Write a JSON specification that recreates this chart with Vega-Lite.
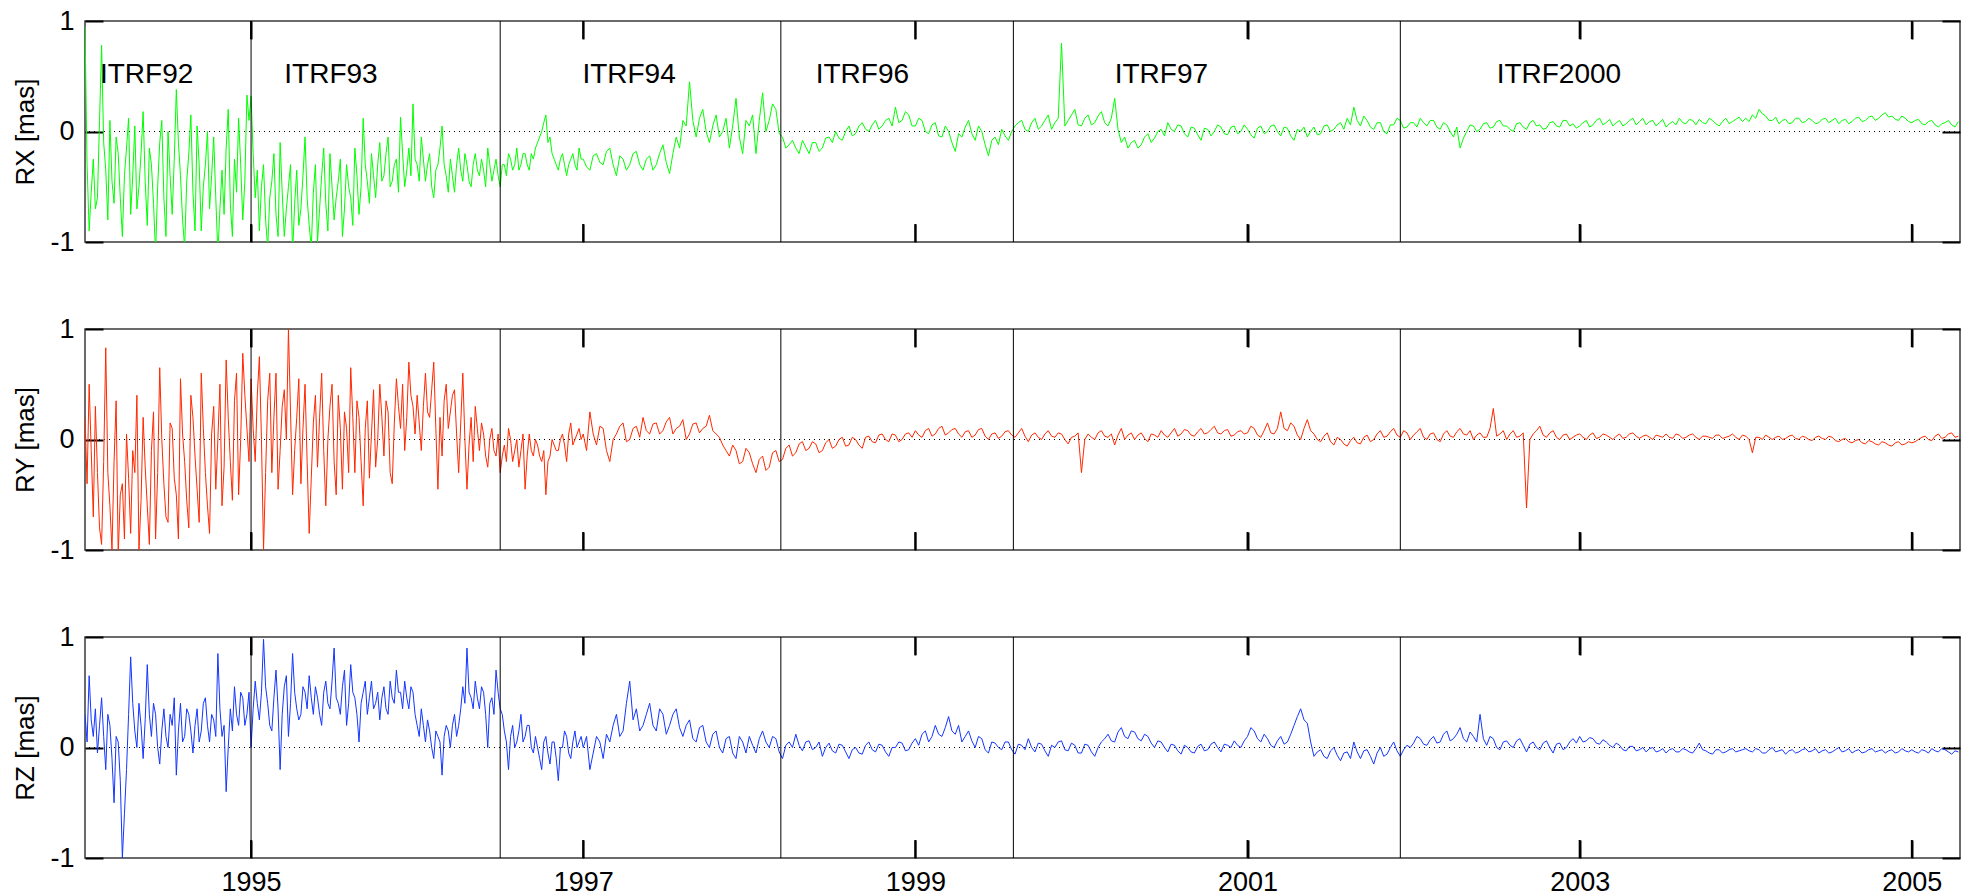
{
"$schema":"https://vega.github.io/schema/vega-lite/v6.json",
"background":"white",
"padding":{"left":12,"top":6,"right":5,"bottom":5},
"spacing":87,
"bounds":"flush",
"config":{"view":{"stroke":"#3a3a3a","strokeWidth":1.5},"axis":{"labelColor":"#000000","titleColor":"#000000","labelFont":"Liberation Sans","titleFont":"Liberation Sans","domain":false,"grid":false,"ticks":true,"tickColor":"#000000","tickWidth":2,"zindex":1}},
"datasets":{
"bounds":[{"b":1995.0},{"b":1996.5},{"b":1998.19},{"b":1999.59},{"b":2001.92}],
"xt":[{"t":1995},{"t":1997},{"t":1999},{"t":2001},{"t":2003},{"t":2005}],
"yt":[{"v":0}],
"labels":[{"t":1994.09,"v":0.51,"name":"ITRF92"},{"t":1995.2,"v":0.51,"name":"ITRF93"},{"t":1996.995,"v":0.51,"name":"ITRF94"},{"t":1998.4,"v":0.51,"name":"ITRF96"},{"t":2000.2,"v":0.51,"name":"ITRF97"},{"t":2002.5,"v":0.51,"name":"ITRF2000"}],
"ts":[
{"t":1994,"x":0.95,"y":0.2,"z":0.3},{"t":1994.0125,"x":-0.3,"y":-0.4,"z":0.05},
{"t":1994.025,"x":-0.9,"y":0.5,"z":0.65},{"t":1994.0375,"x":-0.55,"y":-0.1,"z":0.25},
{"t":1994.05,"x":-0.25,"y":-0.7,"z":0.1},{"t":1994.0625,"x":-0.7,"y":0.3,"z":0.35},
{"t":1994.075,"x":-0.6,"y":-0.3,"z":-0.05},{"t":1994.0875,"x":0.1,"y":-0.8,"z":0.2},
{"t":1994.1,"x":0.78,"y":-0.95,"z":0.45},{"t":1994.1125,"x":-0.1,"y":-0.2,"z":0.1},
{"t":1994.125,"x":-0.35,"y":0.83,"z":-0.2},{"t":1994.1375,"x":-0.8,"y":-0.3,"z":0.3},
{"t":1994.15,"x":0.1,"y":-0.6,"z":0.2},{"t":1994.1625,"x":-0.45,"y":-1.0,"z":-0.1},
{"t":1994.175,"x":-0.65,"y":-0.2,"z":-0.5},{"t":1994.1875,"x":-0.05,"y":0.35,"z":0.1},
{"t":1994.2,"x":-0.2,"y":-1.05,"z":0.05},{"t":1994.2125,"x":-0.6,"y":-0.5,"z":-0.3},
{"t":1994.225,"x":-0.95,"y":-0.4,"z":-1.0},{"t":1994.2375,"x":-0.4,"y":-0.9,"z":-0.6},
{"t":1994.25,"x":-0.15,"y":0.05,"z":-0.2},{"t":1994.2625,"x":0.12,"y":-0.35,"z":0.3},
{"t":1994.275,"x":-0.75,"y":-0.85,"z":0.82},{"t":1994.2875,"x":-0.4,"y":-0.1,"z":0.4},
{"t":1994.3,"x":0.05,"y":-0.3,"z":0.15},{"t":1994.3125,"x":-0.7,"y":0.4,"z":0.0},
{"t":1994.325,"x":-0.5,"y":-1.0,"z":0.4},{"t":1994.3375,"x":-0.2,"y":-0.55,"z":0.2},
{"t":1994.35,"x":0.18,"y":0.2,"z":-0.1},{"t":1994.3625,"x":-0.45,"y":-0.25,"z":0.25},
{"t":1994.375,"x":-0.85,"y":-0.6,"z":0.75},{"t":1994.3875,"x":-0.15,"y":-0.95,"z":0.3},
{"t":1994.4,"x":-0.3,"y":-0.1,"z":0.1},{"t":1994.4125,"x":-0.65,"y":0.25,"z":0.4},
{"t":1994.425,"x":-1.1,"y":-0.9,"z":0.3},{"t":1994.4375,"x":-0.5,"y":-0.3,"z":0.0},
{"t":1994.45,"x":-0.1,"y":0.65,"z":-0.15},{"t":1994.4625,"x":0.1,"y":0.0,"z":0.15},
{"t":1994.475,"x":-0.6,"y":-0.4,"z":0.35},{"t":1994.4875,"x":-0.95,"y":-0.7,"z":0.1},
{"t":1994.5,"x":0.0,"y":-0.75,"z":0.0},{"t":1994.5125,"x":-0.4,"y":0.15,"z":0.3},
{"t":1994.525,"x":-0.75,"y":0.1,"z":0.2},{"t":1994.5375,"x":-0.25,"y":-0.35,"z":0.45},
{"t":1994.55,"x":0.38,"y":-0.5,"z":-0.25},{"t":1994.5625,"x":-0.1,"y":-0.9,"z":0.15},
{"t":1994.575,"x":-0.4,"y":0.55,"z":0.4},{"t":1994.5875,"x":-0.8,"y":0.05,"z":0.05},
{"t":1994.6,"x":-1.05,"y":-0.2,"z":0.1},{"t":1994.6125,"x":-0.45,"y":-0.55,"z":0.35},
{"t":1994.625,"x":-0.2,"y":-0.8,"z":0.3},{"t":1994.6375,"x":0.15,"y":0.4,"z":0.15},
{"t":1994.65,"x":-0.55,"y":0.2,"z":-0.05},{"t":1994.6625,"x":-0.9,"y":-0.15,"z":0.2},
{"t":1994.675,"x":0.05,"y":-0.45,"z":0.35},{"t":1994.6875,"x":-0.3,"y":-0.75,"z":0.05},
{"t":1994.7,"x":-0.9,"y":0.6,"z":0.15},{"t":1994.7125,"x":-0.5,"y":0.1,"z":0.4},
{"t":1994.725,"x":-0.3,"y":-0.3,"z":0.45},{"t":1994.7375,"x":0.0,"y":-0.6,"z":0.2},
{"t":1994.75,"x":-0.7,"y":-0.85,"z":0.05},{"t":1994.7625,"x":-0.4,"y":0.05,"z":0.3},
{"t":1994.775,"x":-0.05,"y":0.3,"z":0.25},{"t":1994.7875,"x":-0.6,"y":-0.45,"z":0.1},
{"t":1994.8,"x":-1.1,"y":0.0,"z":0.85},{"t":1994.8125,"x":-0.7,"y":0.5,"z":0.35},
{"t":1994.825,"x":-0.35,"y":-0.6,"z":0.1},{"t":1994.8375,"x":-0.75,"y":-0.25,"z":0.2},
{"t":1994.85,"x":-0.15,"y":0.72,"z":-0.4},{"t":1994.8625,"x":0.2,"y":0.2,"z":0.0},
{"t":1994.875,"x":-0.65,"y":-0.2,"z":0.35},{"t":1994.8875,"x":-0.95,"y":-0.55,"z":0.15},
{"t":1994.9,"x":-0.25,"y":0.35,"z":0.55},{"t":1994.9125,"x":-0.55,"y":0.6,"z":0.3},
{"t":1994.925,"x":0.12,"y":-0.5,"z":0.2},{"t":1994.9375,"x":-0.3,"y":0.0,"z":0.5},
{"t":1994.95,"x":-0.8,"y":0.78,"z":0.45},{"t":1994.9625,"x":-0.45,"y":0.4,"z":0.2},
{"t":1994.975,"x":0.33,"y":0.1,"z":0.3},{"t":1994.9875,"x":0.1,"y":-0.2,"z":0.5},
{"t":1995,"x":0.32,"y":0.55,"z":0.0},{"t":1995.0125,"x":-0.2,"y":0.1,"z":0.35},
{"t":1995.025,"x":-0.6,"y":-0.2,"z":0.6},{"t":1995.0375,"x":-0.35,"y":0.4,"z":0.4},
{"t":1995.05,"x":-0.9,"y":0.75,"z":0.25},{"t":1995.0625,"x":-0.5,"y":0.0,"z":0.5},
{"t":1995.075,"x":-0.3,"y":-1.0,"z":0.98},{"t":1995.0875,"x":-0.8,"y":-0.3,"z":0.55},
{"t":1995.1,"x":-1.05,"y":0.35,"z":0.4},{"t":1995.1125,"x":-0.6,"y":0.6,"z":0.2},
{"t":1995.125,"x":-0.45,"y":-0.3,"z":0.15},{"t":1995.1375,"x":-0.2,"y":0.2,"z":0.45},
{"t":1995.15,"x":-0.75,"y":0.6,"z":0.7},{"t":1995.1625,"x":-0.95,"y":-0.45,"z":0.35},
{"t":1995.175,"x":-0.1,"y":-0.1,"z":-0.2},{"t":1995.1875,"x":-0.55,"y":0.3,"z":0.3},
{"t":1995.2,"x":-0.95,"y":0.45,"z":0.55},{"t":1995.2125,"x":-0.7,"y":0.0,"z":0.65},
{"t":1995.225,"x":-0.5,"y":1.0,"z":0.1},{"t":1995.2375,"x":-0.3,"y":0.25,"z":0.4},
{"t":1995.25,"x":-1.1,"y":-0.5,"z":0.85},{"t":1995.2625,"x":-0.65,"y":-0.1,"z":0.5},
{"t":1995.275,"x":-0.35,"y":0.2,"z":0.35},{"t":1995.2875,"x":-0.85,"y":0.55,"z":0.25},
{"t":1995.3,"x":-0.7,"y":-0.4,"z":0.3},{"t":1995.3125,"x":-0.4,"y":0.1,"z":0.55},
{"t":1995.325,"x":-0.05,"y":0.5,"z":0.5},{"t":1995.3375,"x":-0.6,"y":-0.2,"z":0.35},
{"t":1995.35,"x":-0.85,"y":-0.85,"z":0.65},{"t":1995.3625,"x":-1.05,"y":-0.35,"z":0.45},
{"t":1995.375,"x":-0.55,"y":0.15,"z":0.3},{"t":1995.3875,"x":-0.3,"y":0.4,"z":0.55},
{"t":1995.4,"x":-1.0,"y":-0.25,"z":0.45},{"t":1995.4125,"x":-0.7,"y":0.2,"z":0.3},
{"t":1995.425,"x":-0.4,"y":0.6,"z":0.2},{"t":1995.4375,"x":-0.15,"y":-0.1,"z":0.5},
{"t":1995.45,"x":-0.65,"y":-0.6,"z":0.6},{"t":1995.4625,"x":-0.9,"y":0.0,"z":0.4},
{"t":1995.475,"x":-0.2,"y":0.3,"z":0.35},{"t":1995.4875,"x":-0.5,"y":0.5,"z":0.6},
{"t":1995.5,"x":-0.8,"y":-0.2,"z":0.9},{"t":1995.5125,"x":-0.6,"y":-0.5,"z":0.45},
{"t":1995.525,"x":-0.45,"y":0.4,"z":0.4},{"t":1995.5375,"x":-0.25,"y":0.1,"z":0.3},
{"t":1995.55,"x":-0.95,"y":-0.45,"z":0.55},{"t":1995.5625,"x":-0.7,"y":0.25,"z":0.7},
{"t":1995.575,"x":-0.3,"y":0.1,"z":0.2},{"t":1995.5875,"x":-0.5,"y":-0.3,"z":0.4},
{"t":1995.6,"x":-0.6,"y":0.65,"z":0.75},{"t":1995.6125,"x":-0.85,"y":0.2,"z":0.5},
{"t":1995.625,"x":-0.15,"y":-0.3,"z":0.45},{"t":1995.6375,"x":-0.4,"y":0.35,"z":0.3},
{"t":1995.65,"x":-0.75,"y":0.2,"z":0.05},{"t":1995.6625,"x":-0.5,"y":-0.2,"z":0.4},
{"t":1995.675,"x":0.12,"y":-0.6,"z":0.5},{"t":1995.6875,"x":-0.3,"y":0.1,"z":0.6},
{"t":1995.7,"x":-0.45,"y":0.35,"z":0.3},{"t":1995.7125,"x":-0.65,"y":-0.35,"z":0.45},
{"t":1995.725,"x":-0.2,"y":0.05,"z":0.6},{"t":1995.7375,"x":-0.4,"y":0.45,"z":0.35},
{"t":1995.75,"x":-0.6,"y":-0.25,"z":0.4},{"t":1995.7625,"x":-0.3,"y":0.0,"z":0.5},
{"t":1995.775,"x":-0.1,"y":0.5,"z":0.25},{"t":1995.7875,"x":-0.45,"y":0.2,"z":0.45},
{"t":1995.8,"x":-0.4,"y":-0.15,"z":0.55},{"t":1995.8125,"x":-0.2,"y":0.35,"z":0.35},
{"t":1995.825,"x":-0.05,"y":0.25,"z":0.3},{"t":1995.8375,"x":-0.5,"y":-0.3,"z":0.6},
{"t":1995.85,"x":-0.45,"y":-0.4,"z":0.45},{"t":1995.8625,"x":-0.3,"y":0.15,"z":0.4},
{"t":1995.875,"x":-0.25,"y":0.55,"z":0.7},{"t":1995.8875,"x":-0.55,"y":0.3,"z":0.5},
{"t":1995.9,"x":0.13,"y":0.1,"z":0.5},{"t":1995.9125,"x":-0.2,"y":0.5,"z":0.35},
{"t":1995.925,"x":-0.5,"y":-0.1,"z":0.6},{"t":1995.9375,"x":-0.35,"y":0.2,"z":0.45},
{"t":1995.95,"x":-0.15,"y":0.7,"z":0.35},{"t":1995.9625,"x":-0.4,"y":0.4,"z":0.55},
{"t":1995.975,"x":0.25,"y":0.3,"z":0.5},{"t":1995.9875,"x":-0.25,"y":0.05,"z":0.3},
{"t":1996,"x":-0.3,"y":0.4,"z":0.2},{"t":1996.0125,"x":-0.45,"y":0.15,"z":0.1},
{"t":1996.025,"x":-0.05,"y":-0.1,"z":0.35},{"t":1996.0375,"x":-0.25,"y":0.3,"z":0.2},
{"t":1996.05,"x":-0.45,"y":0.6,"z":0.05},{"t":1996.0625,"x":-0.3,"y":0.25,"z":0.25},
{"t":1996.075,"x":-0.2,"y":0.2,"z":0.15},{"t":1996.0875,"x":-0.5,"y":0.45,"z":0.0},
{"t":1996.1,"x":-0.6,"y":0.7,"z":-0.1},{"t":1996.1125,"x":-0.35,"y":0.1,"z":0.15},
{"t":1996.125,"x":-0.3,"y":-0.45,"z":0.1},{"t":1996.1375,"x":-0.15,"y":0.2,"z":0.05},
{"t":1996.15,"x":0.05,"y":-0.15,"z":-0.25},{"t":1996.1625,"x":-0.3,"y":0.35,"z":0.1},
{"t":1996.175,"x":-0.4,"y":0.5,"z":0.2},{"t":1996.1875,"x":-0.55,"y":0.1,"z":0.15},
{"t":1996.2,"x":-0.25,"y":0.25,"z":0.0},{"t":1996.2125,"x":-0.4,"y":0.4,"z":0.2},
{"t":1996.225,"x":-0.55,"y":0.45,"z":0.3},{"t":1996.2375,"x":-0.3,"y":0.05,"z":0.1},
{"t":1996.25,"x":-0.15,"y":-0.3,"z":0.2},{"t":1996.2625,"x":-0.35,"y":0.15,"z":0.35},
{"t":1996.275,"x":-0.45,"y":0.6,"z":0.55},{"t":1996.2875,"x":-0.2,"y":0.0,"z":0.4},
{"t":1996.3,"x":-0.3,"y":-0.45,"z":0.9},{"t":1996.3125,"x":-0.45,"y":-0.05,"z":0.5},
{"t":1996.325,"x":-0.5,"y":0.2,"z":0.45},{"t":1996.3375,"x":-0.3,"y":-0.2,"z":0.35},
{"t":1996.35,"x":-0.2,"y":0.3,"z":0.6},{"t":1996.3625,"x":-0.35,"y":0.1,"z":0.45},
{"t":1996.375,"x":-0.4,"y":-0.1,"z":0.35},{"t":1996.3875,"x":-0.25,"y":0.15,"z":0.55},
{"t":1996.4,"x":-0.35,"y":0.05,"z":0.5},{"t":1996.4125,"x":-0.5,"y":-0.15,"z":0.3},
{"t":1996.425,"x":-0.15,"y":-0.25,"z":0.0},{"t":1996.4375,"x":-0.3,"y":0.0,"z":0.4},
{"t":1996.45,"x":-0.45,"y":0.1,"z":0.45},{"t":1996.4625,"x":-0.35,"y":-0.1,"z":0.3},
{"t":1996.475,"x":-0.25,"y":-0.15,"z":0.7},{"t":1996.4875,"x":-0.4,"y":0.05,"z":0.5},
{"t":1996.5,"x":-0.5,"y":-0.3,"z":0.35},{"t":1996.5125,"x":-0.3,"y":-0.15,"z":0.3},
{"t":1996.525,"x":-0.3,"y":-0.05,"z":0.15},{"t":1996.5375,"x":-0.4,"y":-0.2,"z":0.05},
{"t":1996.55,"x":-0.2,"y":0.1,"z":-0.2},{"t":1996.5625,"x":-0.25,"y":0.0,"z":0.1},
{"t":1996.575,"x":-0.35,"y":-0.2,"z":0.2},{"t":1996.5875,"x":-0.3,"y":-0.1,"z":0.0},
{"t":1996.6,"x":-0.15,"y":0.0,"z":0.05},{"t":1996.6125,"x":-0.35,"y":-0.25,"z":0.15},
{"t":1996.625,"x":-0.3,"y":-0.1,"z":0.3},{"t":1996.6375,"x":-0.2,"y":0.05,"z":0.05},
{"t":1996.65,"x":-0.2,"y":-0.45,"z":0.1},{"t":1996.6625,"x":-0.3,"y":-0.15,"z":0.2},
{"t":1996.675,"x":-0.35,"y":0.05,"z":0.2},{"t":1996.6875,"x":-0.2,"y":-0.1,"z":0.0},
{"t":1996.7,"x":-0.25,"y":-0.15,"z":-0.05},{"t":1996.7125,"x":-0.15,"y":0.0,"z":0.1},
{"t":1996.725,"x":-0.1,"y":-0.05,"z":0.0},{"t":1996.7375,"x":-0.05,"y":-0.15,"z":-0.1},
{"t":1996.75,"x":0.0,"y":-0.2,"z":-0.2},{"t":1996.7625,"x":0.08,"y":-0.1,"z":0.05},
{"t":1996.775,"x":0.15,"y":-0.5,"z":0.1},{"t":1996.7875,"x":-0.1,"y":-0.2,"z":-0.05},
{"t":1996.8,"x":-0.05,"y":-0.15,"z":-0.15},{"t":1996.8125,"x":-0.2,"y":0.0,"z":0.05},
{"t":1996.825,"x":-0.25,"y":-0.05,"z":0.05},{"t":1996.8375,"x":-0.3,"y":-0.1,"z":-0.1},
{"t":1996.85,"x":-0.35,"y":-0.1,"z":-0.3},{"t":1996.8625,"x":-0.25,"y":0.0,"z":0.0},
{"t":1996.875,"x":-0.2,"y":0.05,"z":0.0},{"t":1996.8875,"x":-0.3,"y":-0.05,"z":0.15},
{"t":1996.9,"x":-0.4,"y":-0.2,"z":0.1},{"t":1996.9125,"x":-0.3,"y":0.05,"z":-0.05},
{"t":1996.925,"x":-0.25,"y":0.15,"z":-0.1},{"t":1996.9375,"x":-0.2,"y":-0.05,"z":0.05},
{"t":1996.95,"x":-0.3,"y":0.0,"z":0.15},{"t":1996.9625,"x":-0.35,"y":0.05,"z":0.0},
{"t":1996.975,"x":-0.15,"y":0.1,"z":0.05},{"t":1996.9875,"x":-0.25,"y":0.0,"z":0.1},
{"t":1997,"x":-0.25,"y":0.05,"z":0.0},{"t":1997.02,"x":-0.32,"y":-0.1,"z":0.1},
{"t":1997.04,"x":-0.35,"y":0.25,"z":-0.2},{"t":1997.06,"x":-0.22,"y":0.05,"z":-0.05},
{"t":1997.08,"x":-0.2,"y":-0.05,"z":0.1},{"t":1997.1,"x":-0.28,"y":0.12,"z":0.05},
{"t":1997.12,"x":-0.3,"y":0.1,"z":-0.1},{"t":1997.14,"x":-0.18,"y":-0.1,"z":0.12},
{"t":1997.16,"x":-0.15,"y":-0.2,"z":0.05},{"t":1997.18,"x":-0.3,"y":0.0,"z":0.2},
{"t":1997.2,"x":-0.4,"y":0.05,"z":0.3},{"t":1997.22,"x":-0.22,"y":0.12,"z":0.1},
{"t":1997.24,"x":-0.25,"y":0.15,"z":0.15},{"t":1997.26,"x":-0.35,"y":-0.02,"z":0.4},
{"t":1997.28,"x":-0.3,"y":0.0,"z":0.6},{"t":1997.3,"x":-0.2,"y":0.1,"z":0.25},
{"t":1997.32,"x":-0.18,"y":0.12,"z":0.35},{"t":1997.34,"x":-0.3,"y":0.02,"z":0.15},
{"t":1997.36,"x":-0.35,"y":0.2,"z":0.2},{"t":1997.38,"x":-0.25,"y":0.08,"z":0.3},
{"t":1997.4,"x":-0.22,"y":0.05,"z":0.4},{"t":1997.42,"x":-0.35,"y":0.14,"z":0.2},
{"t":1997.44,"x":-0.3,"y":0.15,"z":0.15},{"t":1997.46,"x":-0.2,"y":0.05,"z":0.35},
{"t":1997.48,"x":-0.12,"y":0.08,"z":0.3},{"t":1997.5,"x":-0.28,"y":0.16,"z":0.12},
{"t":1997.52,"x":-0.38,"y":0.2,"z":0.2},{"t":1997.54,"x":-0.2,"y":0.05,"z":0.3},
{"t":1997.56,"x":-0.05,"y":0.1,"z":0.35},{"t":1997.58,"x":-0.15,"y":0.12,"z":0.18},
{"t":1997.6,"x":0.1,"y":0.18,"z":0.1},{"t":1997.62,"x":0.05,"y":0.0,"z":0.2},
{"t":1997.64,"x":0.45,"y":0.05,"z":0.25},{"t":1997.66,"x":0.1,"y":0.14,"z":0.08},
{"t":1997.68,"x":-0.05,"y":0.15,"z":0.05},{"t":1997.7,"x":0.12,"y":0.06,"z":0.18},
{"t":1997.72,"x":0.2,"y":0.1,"z":0.2},{"t":1997.74,"x":0.0,"y":0.12,"z":0.05},
{"t":1997.76,"x":-0.1,"y":0.22,"z":0.0},{"t":1997.78,"x":0.05,"y":0.08,"z":0.12},
{"t":1997.8,"x":0.15,"y":0.05,"z":0.15},{"t":1997.82,"x":-0.05,"y":0.02,"z":0.0},
{"t":1997.84,"x":0.0,"y":-0.05,"z":-0.05},{"t":1997.86,"x":0.12,"y":-0.1,"z":0.08},
{"t":1997.88,"x":-0.15,"y":-0.15,"z":0.1},{"t":1997.9,"x":0.05,"y":-0.05,"z":-0.05},
{"t":1997.92,"x":0.3,"y":-0.1,"z":-0.1},{"t":1997.94,"x":-0.05,"y":-0.22,"z":0.1},
{"t":1997.96,"x":-0.2,"y":-0.2,"z":0.05},{"t":1997.98,"x":0.1,"y":-0.08,"z":-0.05},
{"t":1998,"x":0.05,"y":-0.12,"z":0.1},{"t":1998.02,"x":0.15,"y":-0.22,"z":0.02},
{"t":1998.04,"x":-0.2,"y":-0.3,"z":-0.05},{"t":1998.06,"x":0.1,"y":-0.18,"z":0.08},
{"t":1998.08,"x":0.35,"y":-0.15,"z":0.15},{"t":1998.1,"x":0.0,"y":-0.28,"z":0.05},
{"t":1998.12,"x":0.1,"y":-0.25,"z":0.0},{"t":1998.14,"x":0.25,"y":-0.12,"z":0.1},
{"t":1998.16,"x":0.2,"y":-0.1,"z":0.08},{"t":1998.18,"x":-0.02,"y":-0.2,"z":-0.04},
{"t":1998.2,"x":-0.05,"y":-0.18,"z":-0.1},{"t":1998.22,"x":-0.15,"y":-0.08,"z":0.02},
{"t":1998.24,"x":-0.12,"y":-0.05,"z":0.05},{"t":1998.26,"x":-0.08,"y":-0.15,"z":0.0},
{"t":1998.28,"x":-0.15,"y":-0.12,"z":0.12},{"t":1998.3,"x":-0.2,"y":-0.04,"z":0.02},
{"t":1998.32,"x":-0.08,"y":-0.02,"z":-0.03},{"t":1998.34,"x":-0.14,"y":-0.1,"z":0.05},
{"t":1998.36,"x":-0.2,"y":-0.08,"z":0.06},{"t":1998.38,"x":-0.1,"y":-0.02,"z":-0.02},
{"t":1998.4,"x":-0.1,"y":-0.04,"z":0.0},{"t":1998.42,"x":-0.18,"y":-0.12,"z":0.05},
{"t":1998.44,"x":-0.15,"y":-0.1,"z":-0.08},{"t":1998.46,"x":-0.06,"y":-0.03,"z":0.0},
{"t":1998.48,"x":-0.05,"y":0.0,"z":0.04},{"t":1998.5,"x":-0.1,"y":-0.08,"z":-0.03},
{"t":1998.52,"x":0.0,"y":-0.06,"z":-0.05},{"t":1998.54,"x":-0.06,"y":0.0,"z":0.03},
{"t":1998.56,"x":-0.08,"y":0.02,"z":0.02},{"t":1998.58,"x":0.0,"y":-0.06,"z":-0.04},
{"t":1998.6,"x":0.05,"y":-0.05,"z":-0.1},{"t":1998.62,"x":-0.04,"y":0.02,"z":-0.02},
{"t":1998.64,"x":-0.02,"y":0.0,"z":0.0},{"t":1998.66,"x":0.05,"y":-0.05,"z":-0.05},
{"t":1998.68,"x":0.08,"y":-0.08,"z":-0.06},{"t":1998.7,"x":0.02,"y":0.02,"z":0.02},
{"t":1998.72,"x":0.0,"y":0.03,"z":0.05},{"t":1998.74,"x":0.06,"y":-0.02,"z":-0.02},
{"t":1998.76,"x":0.1,"y":-0.03,"z":-0.04},{"t":1998.78,"x":0.02,"y":0.04,"z":0.03},
{"t":1998.8,"x":0.05,"y":0.05,"z":0.02},{"t":1998.82,"x":0.1,"y":0.0,"z":-0.04},
{"t":1998.84,"x":0.12,"y":-0.02,"z":-0.08},{"t":1998.86,"x":0.05,"y":0.05,"z":0.0},
{"t":1998.88,"x":0.22,"y":0.04,"z":0.0},{"t":1998.9,"x":0.08,"y":-0.02,"z":0.05},
{"t":1998.92,"x":0.1,"y":0.0,"z":0.04},{"t":1998.94,"x":0.18,"y":0.05,"z":-0.03},
{"t":1998.96,"x":0.15,"y":0.06,"z":-0.02},{"t":1998.98,"x":0.05,"y":0.02,"z":0.04},
{"t":1999,"x":0.05,"y":0.08,"z":0.08},{"t":1999.02,"x":0.12,"y":0.04,"z":0.02},
{"t":1999.04,"x":0.1,"y":0.02,"z":0.12},{"t":1999.06,"x":0.0,"y":0.08,"z":0.15},
{"t":1999.08,"x":-0.02,"y":0.1,"z":0.05},{"t":1999.1,"x":0.06,"y":0.03,"z":0.1},
{"t":1999.12,"x":0.08,"y":0.05,"z":0.2},{"t":1999.14,"x":-0.04,"y":0.1,"z":0.12},
{"t":1999.16,"x":-0.05,"y":0.12,"z":0.1},{"t":1999.18,"x":0.05,"y":0.04,"z":0.18},
{"t":1999.2,"x":0.0,"y":0.06,"z":0.28},{"t":1999.22,"x":-0.1,"y":0.09,"z":0.15},
{"t":1999.24,"x":-0.18,"y":0.1,"z":0.12},{"t":1999.26,"x":-0.02,"y":0.05,"z":0.2},
{"t":1999.28,"x":-0.05,"y":0.02,"z":0.05},{"t":1999.3,"x":0.04,"y":0.07,"z":0.1},
{"t":1999.32,"x":0.1,"y":0.08,"z":0.15},{"t":1999.34,"x":-0.02,"y":0.02,"z":0.06},
{"t":1999.36,"x":-0.08,"y":0.04,"z":0.0},{"t":1999.38,"x":0.05,"y":0.09,"z":0.1},
{"t":1999.4,"x":0.0,"y":0.1,"z":0.08},{"t":1999.42,"x":-0.12,"y":0.03,"z":-0.02},
{"t":1999.44,"x":-0.22,"y":0.0,"z":-0.05},{"t":1999.46,"x":-0.08,"y":0.05,"z":0.05},
{"t":1999.48,"x":-0.05,"y":0.06,"z":0.04},{"t":1999.5,"x":-0.12,"y":0.01,"z":0.0},
{"t":1999.52,"x":0.02,"y":0.03,"z":-0.02},{"t":1999.54,"x":-0.04,"y":0.07,"z":0.05},
{"t":1999.56,"x":-0.08,"y":0.08,"z":0.05},{"t":1999.58,"x":0.0,"y":0.04,"z":-0.02},
{"t":1999.6,"x":0.05,"y":0.02,"z":-0.06},{"t":1999.62,"x":0.08,"y":0.06,"z":0.03},
{"t":1999.64,"x":0.1,"y":0.1,"z":0.02},{"t":1999.66,"x":0.02,"y":0.03,"z":-0.02},
{"t":1999.68,"x":0.0,"y":-0.02,"z":0.08},{"t":1999.7,"x":0.08,"y":0.04,"z":0.0},
{"t":1999.72,"x":0.12,"y":0.06,"z":-0.04},{"t":1999.74,"x":0.02,"y":0.02,"z":0.04},
{"t":1999.76,"x":0.05,"y":0.0,"z":0.03},{"t":1999.78,"x":0.1,"y":0.05,"z":-0.03},
{"t":1999.8,"x":0.15,"y":0.08,"z":-0.08},{"t":1999.82,"x":0.02,"y":0.03,"z":0.02},
{"t":1999.84,"x":0.08,"y":0.02,"z":0.0},{"t":1999.86,"x":0.12,"y":0.06,"z":0.05},
{"t":1999.88,"x":0.8,"y":0.05,"z":0.06},{"t":1999.9,"x":0.05,"y":0.0,"z":-0.02},
{"t":1999.92,"x":0.1,"y":-0.04,"z":-0.03},{"t":1999.94,"x":0.15,"y":0.02,"z":0.04},
{"t":1999.96,"x":0.2,"y":0.03,"z":0.02},{"t":1999.98,"x":0.06,"y":0.06,"z":-0.05},
{"t":2000,"x":0.05,"y":-0.3,"z":-0.05},{"t":2000.02,"x":0.12,"y":0.0,"z":0.03},
{"t":2000.04,"x":0.15,"y":0.05,"z":0.02},{"t":2000.06,"x":0.06,"y":0.02,"z":-0.04},
{"t":2000.08,"x":0.08,"y":0.0,"z":-0.08},{"t":2000.1,"x":0.14,"y":0.06,"z":0.0},
{"t":2000.12,"x":0.18,"y":0.08,"z":0.05},{"t":2000.14,"x":0.08,"y":0.03,"z":0.08},
{"t":2000.16,"x":0.05,"y":0.02,"z":0.12},{"t":2000.18,"x":0.12,"y":0.05,"z":0.06},
{"t":2000.2,"x":0.3,"y":-0.05,"z":0.05},{"t":2000.22,"x":0.02,"y":0.04,"z":0.14},
{"t":2000.24,"x":-0.1,"y":0.1,"z":0.18},{"t":2000.26,"x":-0.05,"y":0.0,"z":0.1},
{"t":2000.28,"x":-0.15,"y":0.04,"z":0.08},{"t":2000.3,"x":-0.1,"y":0.06,"z":0.15},
{"t":2000.32,"x":-0.08,"y":0.0,"z":0.14},{"t":2000.34,"x":-0.15,"y":0.04,"z":0.08},
{"t":2000.36,"x":-0.12,"y":0.06,"z":0.06},{"t":2000.38,"x":-0.05,"y":0.01,"z":0.12},
{"t":2000.4,"x":-0.02,"y":-0.02,"z":0.1},{"t":2000.42,"x":-0.1,"y":0.05,"z":0.04},
{"t":2000.44,"x":-0.06,"y":0.04,"z":0.0},{"t":2000.46,"x":0.0,"y":0.02,"z":0.06},
{"t":2000.48,"x":0.02,"y":0.08,"z":0.05},{"t":2000.5,"x":-0.04,"y":0.04,"z":0.0},
{"t":2000.52,"x":0.08,"y":0.02,"z":-0.04},{"t":2000.54,"x":0.02,"y":0.06,"z":0.03},
{"t":2000.56,"x":0.0,"y":0.1,"z":0.02},{"t":2000.58,"x":0.06,"y":0.03,"z":-0.03},
{"t":2000.6,"x":0.05,"y":0.05,"z":-0.06},{"t":2000.62,"x":-0.02,"y":0.09,"z":0.02},
{"t":2000.64,"x":-0.05,"y":0.08,"z":0.0},{"t":2000.66,"x":0.04,"y":0.04,"z":-0.04},
{"t":2000.68,"x":0.03,"y":0.03,"z":-0.05},{"t":2000.7,"x":-0.03,"y":0.07,"z":0.01},
{"t":2000.72,"x":-0.08,"y":0.1,"z":0.03},{"t":2000.74,"x":0.03,"y":0.05,"z":-0.03},
{"t":2000.76,"x":0.02,"y":0.06,"z":-0.02},{"t":2000.78,"x":-0.04,"y":0.09,"z":0.03},
{"t":2000.8,"x":0.0,"y":0.12,"z":0.05},{"t":2000.82,"x":0.06,"y":0.06,"z":0.0},
{"t":2000.84,"x":0.04,"y":0.05,"z":-0.04},{"t":2000.86,"x":-0.02,"y":0.08,"z":0.03},
{"t":2000.88,"x":-0.03,"y":0.09,"z":0.02},{"t":2000.9,"x":0.04,"y":0.03,"z":0.0},
{"t":2000.92,"x":0.05,"y":0.04,"z":0.06},{"t":2000.94,"x":-0.02,"y":0.07,"z":0.02},
{"t":2000.96,"x":0.0,"y":0.08,"z":0.0},{"t":2000.98,"x":0.06,"y":0.05,"z":0.06},
{"t":2001,"x":0.02,"y":0.06,"z":0.1},{"t":2001.02,"x":-0.03,"y":0.12,"z":0.18},
{"t":2001.04,"x":-0.06,"y":0.1,"z":0.15},{"t":2001.06,"x":0.03,"y":0.04,"z":0.08},
{"t":2001.08,"x":0.05,"y":0.02,"z":0.05},{"t":2001.1,"x":-0.02,"y":0.08,"z":0.12},
{"t":2001.12,"x":0.0,"y":0.15,"z":0.08},{"t":2001.14,"x":0.05,"y":0.06,"z":0.02},
{"t":2001.16,"x":0.06,"y":0.05,"z":0.0},{"t":2001.18,"x":0.0,"y":0.1,"z":0.06},
{"t":2001.2,"x":-0.04,"y":0.25,"z":0.1},{"t":2001.22,"x":0.04,"y":0.1,"z":0.03},
{"t":2001.24,"x":0.03,"y":0.08,"z":0.05},{"t":2001.26,"x":-0.04,"y":0.15,"z":0.12},
{"t":2001.28,"x":-0.08,"y":0.12,"z":0.2},{"t":2001.3,"x":0.02,"y":0.04,"z":0.28},
{"t":2001.32,"x":0.0,"y":0.0,"z":0.35},{"t":2001.34,"x":0.04,"y":0.1,"z":0.25},
{"t":2001.36,"x":-0.05,"y":0.18,"z":0.22},{"t":2001.38,"x":0.0,"y":0.08,"z":0.05},
{"t":2001.4,"x":0.04,"y":0.05,"z":-0.08},{"t":2001.42,"x":-0.03,"y":0.0,"z":-0.04},
{"t":2001.44,"x":-0.02,"y":-0.02,"z":-0.02},{"t":2001.46,"x":0.05,"y":0.03,"z":-0.08},
{"t":2001.48,"x":0.06,"y":0.06,"z":-0.1},{"t":2001.5,"x":0.0,"y":-0.02,"z":-0.03},
{"t":2001.52,"x":0.02,"y":-0.05,"z":0.0},{"t":2001.54,"x":0.06,"y":0.02,"z":-0.07},
{"t":2001.56,"x":0.08,"y":0.0,"z":-0.12},{"t":2001.58,"x":0.02,"y":-0.04,"z":-0.05},
{"t":2001.6,"x":0.12,"y":-0.06,"z":-0.04},{"t":2001.62,"x":0.06,"y":-0.01,"z":-0.1},
{"t":2001.64,"x":0.22,"y":0.02,"z":0.05},{"t":2001.66,"x":0.1,"y":-0.03,"z":-0.04},
{"t":2001.68,"x":0.05,"y":-0.04,"z":-0.1},{"t":2001.7,"x":0.14,"y":0.02,"z":-0.03},
{"t":2001.72,"x":0.1,"y":0.04,"z":-0.02},{"t":2001.74,"x":0.04,"y":-0.02,"z":-0.08},
{"t":2001.76,"x":0.02,"y":0.0,"z":-0.15},{"t":2001.78,"x":0.08,"y":0.05,"z":-0.05},
{"t":2001.8,"x":0.08,"y":0.08,"z":0.0},{"t":2001.82,"x":0.0,"y":0.02,"z":-0.08},
{"t":2001.84,"x":-0.02,"y":0.03,"z":-0.06},{"t":2001.86,"x":0.06,"y":0.07,"z":0.0},
{"t":2001.88,"x":0.06,"y":0.1,"z":0.05},{"t":2001.9,"x":0.12,"y":0.04,"z":-0.03},
{"t":2001.92,"x":0.1,"y":0.02,"z":-0.08},{"t":2001.94,"x":0.03,"y":0.08,"z":-0.02},
{"t":2001.96,"x":0.04,"y":0.06,"z":0.02},{"t":2001.98,"x":0.08,"y":0.0,"z":0.0},
{"t":2002,"x":0.08,"y":0.04,"z":0.04},{"t":2002.02,"x":0.04,"y":0.07,"z":0.1},
{"t":2002.04,"x":0.12,"y":0.1,"z":0.08},{"t":2002.06,"x":0.08,"y":0.02,"z":0.03},
{"t":2002.08,"x":0.05,"y":0.0,"z":0.02},{"t":2002.1,"x":0.1,"y":0.05,"z":0.07},
{"t":2002.12,"x":0.1,"y":0.06,"z":0.1},{"t":2002.14,"x":0.04,"y":0.0,"z":0.04},
{"t":2002.16,"x":0.02,"y":-0.02,"z":0.05},{"t":2002.18,"x":0.08,"y":0.05,"z":0.12},
{"t":2002.2,"x":0.06,"y":0.08,"z":0.15},{"t":2002.22,"x":0.0,"y":0.03,"z":0.06},
{"t":2002.24,"x":-0.05,"y":0.02,"z":0.08},{"t":2002.26,"x":0.04,"y":0.07,"z":0.12},
{"t":2002.28,"x":-0.15,"y":0.1,"z":0.18},{"t":2002.3,"x":-0.06,"y":0.05,"z":0.08},
{"t":2002.32,"x":0.0,"y":0.04,"z":0.05},{"t":2002.34,"x":0.06,"y":0.08,"z":0.14},
{"t":2002.36,"x":0.05,"y":0.0,"z":0.1},{"t":2002.38,"x":0.0,"y":0.04,"z":0.05},
{"t":2002.4,"x":0.02,"y":0.06,"z":0.3},{"t":2002.42,"x":0.07,"y":0.02,"z":0.08},
{"t":2002.44,"x":0.08,"y":0.02,"z":0.02},{"t":2002.46,"x":0.03,"y":0.1,"z":0.1},
{"t":2002.48,"x":0.04,"y":0.28,"z":0.08},{"t":2002.5,"x":0.09,"y":0.03,"z":0.0},
{"t":2002.52,"x":0.1,"y":0.05,"z":-0.02},{"t":2002.54,"x":0.05,"y":0.08,"z":0.05},
{"t":2002.56,"x":0.05,"y":0.0,"z":0.06},{"t":2002.58,"x":0.02,"y":0.05,"z":0.02},
{"t":2002.6,"x":0.0,"y":0.08,"z":0.0},{"t":2002.62,"x":0.07,"y":0.02,"z":0.06},
{"t":2002.64,"x":0.08,"y":0.03,"z":0.08},{"t":2002.66,"x":0.04,"y":0.06,"z":0.02},
{"t":2002.68,"x":0.02,"y":-0.62,"z":-0.04},{"t":2002.7,"x":0.08,"y":0.0,"z":0.03},
{"t":2002.72,"x":0.1,"y":0.05,"z":0.05},{"t":2002.74,"x":0.05,"y":0.08,"z":0.0},
{"t":2002.76,"x":0.06,"y":0.12,"z":-0.02},{"t":2002.78,"x":0.02,"y":0.04,"z":0.04},
{"t":2002.8,"x":0.03,"y":0.02,"z":0.06},{"t":2002.82,"x":0.08,"y":0.06,"z":0.0},
{"t":2002.84,"x":0.09,"y":0.08,"z":-0.05},{"t":2002.86,"x":0.05,"y":0.02,"z":0.03},
{"t":2002.88,"x":0.04,"y":0.0,"z":0.04},{"t":2002.9,"x":0.1,"y":0.04,"z":-0.02},
{"t":2002.92,"x":0.1,"y":0.05,"z":0.0},{"t":2002.94,"x":0.05,"y":0.0,"z":0.05},
{"t":2002.96,"x":0.07,"y":0.02,"z":0.08},{"t":2002.98,"x":0.03,"y":0.04,"z":0.04},
{"t":2003,"x":0.05,"y":0.05,"z":0.1},{"t":2003.02,"x":0.08,"y":0.02,"z":0.05},
{"t":2003.04,"x":0.1,"y":0.0,"z":0.06},{"t":2003.06,"x":0.04,"y":0.04,"z":0.09},
{"t":2003.08,"x":0.06,"y":0.06,"z":0.08},{"t":2003.1,"x":0.1,"y":0.01,"z":0.04},
{"t":2003.12,"x":0.12,"y":0.02,"z":0.03},{"t":2003.14,"x":0.06,"y":0.05,"z":0.07},
{"t":2003.16,"x":0.08,"y":0.04,"z":0.05},{"t":2003.18,"x":0.11,"y":0.02,"z":0.02},
{"t":2003.2,"x":0.05,"y":0.0,"z":0.0},{"t":2003.22,"x":0.08,"y":0.03,"z":0.04},
{"t":2003.24,"x":0.1,"y":0.05,"z":0.02},{"t":2003.26,"x":0.05,"y":0.01,"z":-0.02},
{"t":2003.28,"x":0.07,"y":0.02,"z":-0.03},{"t":2003.3,"x":0.1,"y":0.05,"z":0.01},
{"t":2003.32,"x":0.12,"y":0.06,"z":0.01},{"t":2003.34,"x":0.06,"y":0.03,"z":-0.03},
{"t":2003.36,"x":0.09,"y":0.01,"z":-0.02},{"t":2003.38,"x":0.12,"y":0.03,"z":0.0},
{"t":2003.4,"x":0.06,"y":0.04,"z":-0.04},{"t":2003.42,"x":0.09,"y":0.02,"z":-0.01},
{"t":2003.44,"x":0.1,"y":0.0,"z":0.0},{"t":2003.46,"x":0.05,"y":0.04,"z":-0.04},
{"t":2003.48,"x":0.08,"y":0.03,"z":-0.03},{"t":2003.5,"x":0.11,"y":0.02,"z":-0.01},
{"t":2003.52,"x":0.04,"y":0.05,"z":-0.05},{"t":2003.54,"x":0.07,"y":0.02,"z":-0.02},
{"t":2003.56,"x":0.09,"y":0.01,"z":-0.01},{"t":2003.58,"x":0.06,"y":0.05,"z":-0.04},
{"t":2003.6,"x":0.12,"y":0.04,"z":-0.04},{"t":2003.62,"x":0.08,"y":0.01,"z":-0.01},
{"t":2003.64,"x":0.07,"y":0.02,"z":-0.02},{"t":2003.66,"x":0.11,"y":0.04,"z":-0.04},
{"t":2003.68,"x":0.1,"y":0.05,"z":-0.05},{"t":2003.7,"x":0.06,"y":0.02,"z":-0.01},
{"t":2003.72,"x":0.11,"y":0.0,"z":0.04},{"t":2003.74,"x":0.08,"y":0.03,"z":-0.02},
{"t":2003.76,"x":0.07,"y":0.03,"z":-0.03},{"t":2003.78,"x":0.12,"y":0.02,"z":-0.05},
{"t":2003.8,"x":0.1,"y":0.01,"z":-0.06},{"t":2003.82,"x":0.07,"y":0.04,"z":-0.02},
{"t":2003.84,"x":0.05,"y":0.04,"z":-0.02},{"t":2003.86,"x":0.09,"y":0.01,"z":-0.05},
{"t":2003.88,"x":0.12,"y":0.02,"z":-0.04},{"t":2003.9,"x":0.07,"y":0.03,"z":-0.02},
{"t":2003.92,"x":0.09,"y":0.05,"z":-0.01},{"t":2003.94,"x":0.11,"y":0.02,"z":-0.04},
{"t":2003.96,"x":0.13,"y":0.0,"z":-0.03},{"t":2003.98,"x":0.09,"y":0.04,"z":-0.02},
{"t":2004,"x":0.12,"y":0.03,"z":-0.01},{"t":2004.02,"x":0.09,"y":0.0,"z":-0.03},
{"t":2004.04,"x":0.15,"y":-0.12,"z":-0.04},{"t":2004.06,"x":0.12,"y":0.02,"z":-0.01},
{"t":2004.08,"x":0.2,"y":0.02,"z":-0.02},{"t":2004.1,"x":0.16,"y":0.0,"z":-0.05},
{"t":2004.12,"x":0.14,"y":0.04,"z":-0.05},{"t":2004.14,"x":0.1,"y":0.02,"z":-0.02},
{"t":2004.16,"x":0.1,"y":0.0,"z":0.0},{"t":2004.18,"x":0.13,"y":0.02,"z":-0.04},
{"t":2004.2,"x":0.07,"y":0.03,"z":-0.03},{"t":2004.22,"x":0.1,"y":0.0,"z":-0.02},
{"t":2004.24,"x":0.11,"y":0.01,"z":-0.06},{"t":2004.26,"x":0.07,"y":0.03,"z":-0.03},
{"t":2004.28,"x":0.08,"y":0.04,"z":-0.02},{"t":2004.3,"x":0.12,"y":0.01,"z":-0.05},
{"t":2004.32,"x":0.12,"y":0.0,"z":-0.04},{"t":2004.34,"x":0.08,"y":0.03,"z":-0.02},
{"t":2004.36,"x":0.09,"y":0.02,"z":-0.01},{"t":2004.38,"x":0.12,"y":0.0,"z":-0.04},
{"t":2004.4,"x":0.1,"y":-0.01,"z":-0.03},{"t":2004.42,"x":0.07,"y":0.02,"z":-0.01},
{"t":2004.44,"x":0.08,"y":0.03,"z":-0.05},{"t":2004.46,"x":0.11,"y":0.01,"z":-0.03},
{"t":2004.48,"x":0.12,"y":0.0,"z":-0.02},{"t":2004.5,"x":0.08,"y":0.03,"z":-0.05},
{"t":2004.52,"x":0.1,"y":0.02,"z":-0.04},{"t":2004.54,"x":0.12,"y":-0.01,"z":-0.02},
{"t":2004.56,"x":0.07,"y":-0.02,"z":0.0},{"t":2004.58,"x":0.1,"y":0.0,"z":-0.04},
{"t":2004.6,"x":0.11,"y":0.01,"z":-0.03},{"t":2004.62,"x":0.07,"y":-0.02,"z":-0.01},
{"t":2004.64,"x":0.09,"y":-0.03,"z":-0.05},{"t":2004.66,"x":0.12,"y":-0.01,"z":-0.03},
{"t":2004.68,"x":0.13,"y":0.0,"z":-0.02},{"t":2004.7,"x":0.09,"y":-0.03,"z":-0.05},
{"t":2004.72,"x":0.1,"y":-0.04,"z":-0.04},{"t":2004.74,"x":0.13,"y":-0.01,"z":-0.02},
{"t":2004.76,"x":0.14,"y":-0.02,"z":-0.01},{"t":2004.78,"x":0.1,"y":-0.04,"z":-0.04},
{"t":2004.8,"x":0.12,"y":-0.05,"z":-0.03},{"t":2004.82,"x":0.15,"y":-0.02,"z":-0.02},
{"t":2004.84,"x":0.17,"y":-0.03,"z":-0.05},{"t":2004.86,"x":0.13,"y":-0.05,"z":-0.03},
{"t":2004.88,"x":0.14,"y":-0.06,"z":-0.02},{"t":2004.9,"x":0.11,"y":-0.03,"z":-0.05},
{"t":2004.92,"x":0.1,"y":-0.02,"z":-0.04},{"t":2004.94,"x":0.14,"y":-0.05,"z":-0.01},
{"t":2004.96,"x":0.12,"y":-0.04,"z":-0.03},{"t":2004.98,"x":0.09,"y":-0.02,"z":-0.04},
{"t":2005,"x":0.08,"y":-0.03,"z":-0.02},{"t":2005.02,"x":0.1,"y":-0.02,"z":-0.04},
{"t":2005.04,"x":0.11,"y":0.0,"z":-0.05},{"t":2005.06,"x":0.07,"y":0.02,"z":-0.02},
{"t":2005.08,"x":0.06,"y":0.03,"z":-0.03},{"t":2005.1,"x":0.09,"y":0.0,"z":-0.05},
{"t":2005.12,"x":0.1,"y":-0.01,"z":-0.01},{"t":2005.14,"x":0.06,"y":0.03,"z":-0.03},
{"t":2005.16,"x":0.04,"y":0.05,"z":-0.04},{"t":2005.18,"x":0.07,"y":0.01,"z":-0.01},
{"t":2005.2,"x":0.08,"y":0.02,"z":-0.02},{"t":2005.22,"x":0.1,"y":0.05,"z":-0.04},
{"t":2005.24,"x":0.06,"y":0.06,"z":-0.06},{"t":2005.26,"x":0.04,"y":0.02,"z":-0.03},
{"t":2005.28,"x":0.09,"y":0.03,"z":-0.04}
]},
"vconcat":[
{"width":1875,"height":221,
 "layer":[
  {"data":{"name":"yt"},"mark":{"type":"rule","color":"#000000","strokeWidth":1,"strokeDash":[1,4]},
   "encoding":{"y":{"field":"v","type":"quantitative","scale":{"domain":[-1,1],"nice":false,"zero":false},"axis":{"orient":"right","values":[-1,0,1],"labels":false,"offset":-18,"tickSize":18,"title":null}}}},
  {"data":{"name":"ts"},"mark":{"type":"line","color":"#00ff00","strokeWidth":1,"clip":true},
   "encoding":{"x":{"field":"t","type":"quantitative","scale":{"domain":[1994,2005.29],"nice":false,"zero":false},"axis":{"orient":"bottom","values":[1995,1997,1999,2001,2003,2005],"labels":false,"offset":-18,"tickSize":18,"title":null}},
   "y":{"field":"x","type":"quantitative","scale":{"domain":[-1,1],"nice":false,"zero":false},"axis":{"orient":"left","values":[-1,0,1],"labelExpr":"'' + datum.value","labelFontSize":27,"labelPadding":11,"labelFlush":false,"labelOverlap":false,"offset":-18,"tickSize":18,"title":"RX [mas]","titleFontSize":26,"titleFontWeight":"normal","titlePadding":11}}}},
  {"data":{"name":"bounds"},"mark":{"type":"rule","color":"#000000","strokeWidth":1},
   "encoding":{"x":{"field":"b","type":"quantitative","axis":{"orient":"top","values":[1995,1997,1999,2001,2003,2005],"labels":false,"offset":-18,"tickSize":18,"title":null}}}},
  {"data":{"name":"xt"},"mark":{"type":"rule","color":"#000000","strokeWidth":2},
   "encoding":{"x":{"field":"t","type":"quantitative","axis":null},"y":{"datum":1,"type":"quantitative","axis":null},"y2":{"datum":0.837}}},
  {"data":{"name":"xt"},"mark":{"type":"rule","color":"#000000","strokeWidth":2},
   "encoding":{"x":{"field":"t","type":"quantitative","axis":null},"y":{"datum":-1,"type":"quantitative","axis":null},"y2":{"datum":-0.837}}},
  {"data":{"name":"labels"},"mark":{"type":"text","align":"left","baseline":"middle","font":"Liberation Sans","fontSize":28,"color":"#000000"},
   "encoding":{"x":{"field":"t","type":"quantitative","axis":null},"y":{"field":"v","type":"quantitative","axis":null},"text":{"field":"name"}}}
 ],
 "resolve":{"axis":{"x":"independent","y":"independent"}}
},
{"width":1875,"height":221,
 "layer":[
  {"data":{"name":"yt"},"mark":{"type":"rule","color":"#000000","strokeWidth":1,"strokeDash":[1,4]},
   "encoding":{"y":{"field":"v","type":"quantitative","scale":{"domain":[-1,1],"nice":false,"zero":false},"axis":{"orient":"right","values":[-1,0,1],"labels":false,"offset":-18,"tickSize":18,"title":null}}}},
  {"data":{"name":"ts"},"mark":{"type":"line","color":"#ff2800","strokeWidth":1,"clip":true},
   "encoding":{"x":{"field":"t","type":"quantitative","scale":{"domain":[1994,2005.29],"nice":false,"zero":false},"axis":{"orient":"bottom","values":[1995,1997,1999,2001,2003,2005],"labels":false,"offset":-18,"tickSize":18,"title":null}},
   "y":{"field":"y","type":"quantitative","scale":{"domain":[-1,1],"nice":false,"zero":false},"axis":{"orient":"left","values":[-1,0,1],"labelExpr":"'' + datum.value","labelFontSize":27,"labelPadding":11,"labelFlush":false,"labelOverlap":false,"offset":-18,"tickSize":18,"title":"RY [mas]","titleFontSize":26,"titleFontWeight":"normal","titlePadding":11}}}},
  {"data":{"name":"bounds"},"mark":{"type":"rule","color":"#000000","strokeWidth":1},
   "encoding":{"x":{"field":"b","type":"quantitative","axis":{"orient":"top","values":[1995,1997,1999,2001,2003,2005],"labels":false,"offset":-18,"tickSize":18,"title":null}}}},
  {"data":{"name":"xt"},"mark":{"type":"rule","color":"#000000","strokeWidth":2},
   "encoding":{"x":{"field":"t","type":"quantitative","axis":null},"y":{"datum":1,"type":"quantitative","axis":null},"y2":{"datum":0.837}}},
  {"data":{"name":"xt"},"mark":{"type":"rule","color":"#000000","strokeWidth":2},
   "encoding":{"x":{"field":"t","type":"quantitative","axis":null},"y":{"datum":-1,"type":"quantitative","axis":null},"y2":{"datum":-0.837}}}
 ],
 "resolve":{"axis":{"x":"independent","y":"independent"}}
},
{"width":1875,"height":221,
 "layer":[
  {"data":{"name":"yt"},"mark":{"type":"rule","color":"#000000","strokeWidth":1,"strokeDash":[1,4]},
   "encoding":{"y":{"field":"v","type":"quantitative","scale":{"domain":[-1,1],"nice":false,"zero":false},"axis":{"orient":"right","values":[-1,0,1],"labels":false,"offset":-18,"tickSize":18,"title":null}}}},
  {"data":{"name":"ts"},"mark":{"type":"line","color":"#1436ff","strokeWidth":1,"clip":true},
   "encoding":{"x":{"field":"t","type":"quantitative","scale":{"domain":[1994,2005.29],"nice":false,"zero":false},"axis":{"orient":"bottom","values":[1995,1997,1999,2001,2003,2005],"labelExpr":"'' + datum.value","labelFontSize":27,"labelPadding":11,"labelFlush":false,"labelOverlap":false,"offset":-18,"tickSize":18,"title":null}},
   "y":{"field":"z","type":"quantitative","scale":{"domain":[-1,1],"nice":false,"zero":false},"axis":{"orient":"left","values":[-1,0,1],"labelExpr":"'' + datum.value","labelFontSize":27,"labelPadding":11,"labelFlush":false,"labelOverlap":false,"offset":-18,"tickSize":18,"title":"RZ [mas]","titleFontSize":26,"titleFontWeight":"normal","titlePadding":11}}}},
  {"data":{"name":"bounds"},"mark":{"type":"rule","color":"#000000","strokeWidth":1},
   "encoding":{"x":{"field":"b","type":"quantitative","axis":{"orient":"top","values":[1995,1997,1999,2001,2003,2005],"labels":false,"offset":-18,"tickSize":18,"title":null}}}},
  {"data":{"name":"xt"},"mark":{"type":"rule","color":"#000000","strokeWidth":2},
   "encoding":{"x":{"field":"t","type":"quantitative","axis":null},"y":{"datum":1,"type":"quantitative","axis":null},"y2":{"datum":0.837}}},
  {"data":{"name":"xt"},"mark":{"type":"rule","color":"#000000","strokeWidth":2},
   "encoding":{"x":{"field":"t","type":"quantitative","axis":null},"y":{"datum":-1,"type":"quantitative","axis":null},"y2":{"datum":-0.837}}}
 ],
 "resolve":{"axis":{"x":"independent","y":"independent"}}
}
]
}
